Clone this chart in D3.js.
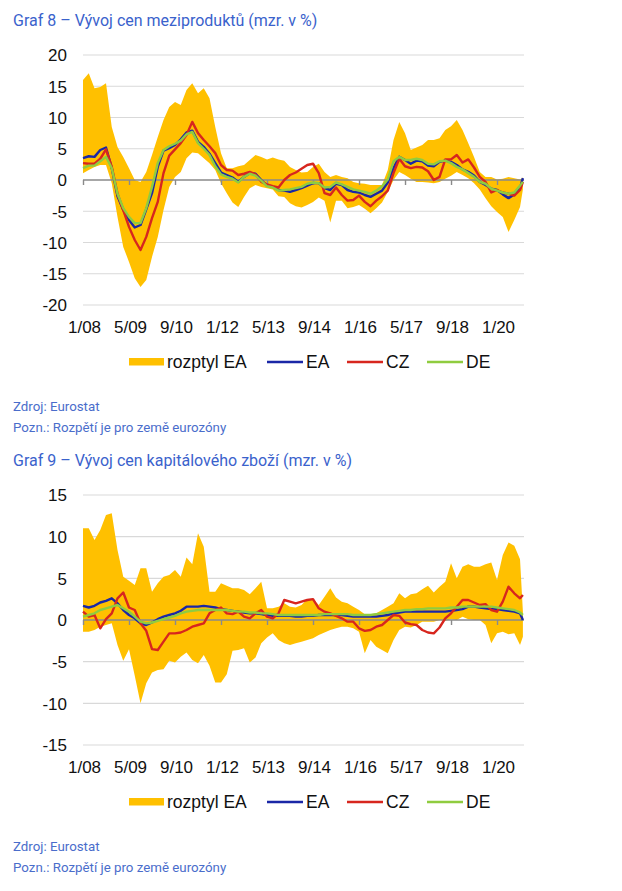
<!DOCTYPE html>
<html><head><meta charset="utf-8">
<script src="https://cdn.jsdelivr.net/npm/d3@7"></script>
<style>
html,body{margin:0;padding:0;background:#fff;}
svg{display:block;}
</style></head>
<body>
<svg id="chart" width="622" height="891"></svg>
<script>
// month offsets from 1/2008 (every second month, last point 10/2020)
const monthOffsets = d3.range(0, 153, 2).concat([153]);
const tickMonths = [0, 16, 32, 48, 64, 80, 96, 112, 128, 144];
const tickLabels = ["1/08","5/09","9/10","1/12","5/13","9/14","1/16","5/17","9/18","1/20"];

// Graf 8 – meziprodukty
const c1Hi = [16.0,17.1,14.7,14.9,15.5,8.5,5.3,3.7,1.9,0.0,
 -0.3,1.3,4.0,6.9,9.6,11.7,12.5,12.0,14.4,15.5,
 13.9,14.7,13.1,8.5,4.3,1.9,1.9,2.2,2.4,3.2,
 4.0,3.7,3.3,3.6,3.3,3.1,2.1,1.6,1.2,1.3,
 2.1,2.6,1.3,0.5,0.8,0.5,0.3,-0.3,-0.5,-0.6,
 -0.8,-0.8,-0.8,1.6,6.4,9.3,7.5,4.8,5.2,5.6,
 6.4,6.4,6.7,8.0,8.6,9.6,8.0,5.9,3.7,1.3,
 0.5,0.5,0.1,0.2,0.5,0.3,0.1,0.4];
const c1Lo = [1.1,1.6,2.1,2.4,2.4,-0.5,-5.9,-10.7,-13.1,-15.7,
 -17.1,-16.0,-12.3,-9.1,-4.8,-1.1,0.5,1.3,3.5,4.4,
 4.3,3.5,2.7,1.6,-0.5,-2.1,-3.6,-4.3,-2.7,-1.3,
 -0.8,-1.1,-1.3,-1.5,-2.6,-2.7,-3.7,-4.2,-4.4,-4.0,
 -3.5,-2.8,-3.3,-6.8,-3.3,-3.3,-4.5,-4.3,-4.0,-4.6,
 -5.3,-4.5,-3.6,-1.9,0.0,1.3,0.8,0.2,-0.3,-0.3,
 -0.4,-0.5,-0.3,0.2,0.7,1.3,0.8,0.3,-0.5,-1.5,
 -2.9,-4.2,-5.1,-5.9,-8.3,-6.4,-4.3,-1.5];
const c1EA = [3.5,3.8,3.7,4.8,5.2,1.9,-2.6,-4.8,-6.4,-7.6,
 -7.2,-4.7,-2.1,2.1,4.7,5.1,5.6,6.5,7.6,7.9,
 6.1,5.3,4.2,2.7,1.2,0.8,0.4,-0.3,0.5,1.1,
 1.0,0.0,-0.9,-1.1,-1.6,-1.7,-1.9,-1.6,-1.3,-0.9,
 -0.5,-0.5,-1.3,-1.6,-0.6,-0.8,-1.6,-1.9,-2.0,-2.4,
 -2.7,-2.2,-1.7,-0.4,1.9,3.7,3.2,2.6,3.1,3.0,
 2.3,2.2,2.9,3.1,2.9,2.4,1.7,1.3,0.7,-0.3,
 -0.8,-1.4,-1.6,-2.3,-2.9,-2.3,-1.3,0.3];
const c1CZ = [2.7,2.6,2.6,3.4,4.9,2.1,-2.2,-4.8,-7.5,-9.6,
 -11.2,-9.1,-6.1,-3.5,1.1,3.9,4.9,5.9,7.2,9.3,
 7.5,6.4,5.4,4.3,2.4,1.6,1.5,0.8,1.0,1.3,
 0.9,-0.3,-0.7,-1.0,-1.2,0.0,0.8,1.2,1.8,2.4,
 2.6,1.1,-2.1,-2.4,-1.2,-2.4,-3.3,-3.2,-2.5,-3.5,
 -4.2,-3.3,-2.6,-1.7,1.1,3.4,2.2,1.9,2.1,2.0,
 1.4,0.0,0.5,3.3,3.3,4.0,2.8,3.3,2.0,0.5,
 -0.3,-2.0,-1.6,-2.0,-2.2,-2.5,-1.6,-0.3];
const c1DE = [1.9,2.3,2.3,3.0,3.7,1.9,-2.2,-4.5,-5.9,-6.9,
 -6.9,-4.5,-1.1,2.7,4.8,5.4,5.8,6.3,7.3,7.7,
 5.9,5.0,4.0,2.2,0.9,0.5,0.2,-0.4,0.5,1.0,
 0.7,-0.1,-1.0,-1.2,-1.7,-1.6,-1.5,-1.3,-1.1,-0.6,
 -0.4,-0.5,-1.2,-1.1,-0.4,-0.7,-1.1,-1.5,-1.7,-1.9,
 -2.2,-1.7,-1.0,0.1,3.0,3.7,3.2,3.2,3.4,3.2,
 2.6,2.5,3.0,3.1,2.7,2.1,1.7,1.1,0.5,-0.3,
 -0.6,-1.4,-1.7,-2.0,-2.2,-2.0,-0.9,-0.3];

// Graf 9 – kapitálové zboží
const c2Hi = [11.0,11.0,9.6,10.8,12.6,12.8,8.4,5.2,4.7,4.2,
 6.2,6.2,3.4,4.4,5.2,5.4,6.0,5.2,7.5,6.7,
 10.4,8.8,3.4,3.4,4.4,4.1,3.8,3.8,3.6,3.1,
 3.8,4.6,1.4,1.4,1.6,2.0,1.6,1.5,1.8,2.5,
 2.5,1.8,2.8,3.8,2.7,2.2,2.0,1.6,1.2,0.7,
 0.7,0.8,1.2,1.6,2.0,3.2,2.6,3.1,3.2,3.7,
 4.1,3.3,4.0,4.6,6.8,5.0,6.4,6.7,6.4,6.4,
 6.7,6.9,4.8,7.8,9.3,8.9,7.3,1.0];
const c2Lo = [-1.4,-1.4,-1.2,-0.8,-0.6,-0.4,-3.0,-4.9,-3.5,-6.7,
 -10.0,-7.6,-6.3,-6.0,-5.9,-4.9,-5.1,-4.4,-3.9,-4.8,
 -5.2,-4.2,-5.5,-7.5,-7.5,-6.5,-3.7,-3.6,-3.4,-5.1,
 -4.5,-2.8,-2.1,-1.6,-2.4,-2.8,-3.0,-2.8,-2.6,-2.4,
 -2.2,-1.8,-1.5,-1.2,-1.0,-0.8,-0.8,-1.0,-1.4,-4.0,
 -2.4,-3.2,-3.6,-4.0,-2.4,-1.2,-0.8,-0.9,-0.6,-0.2,
 -0.2,-0.2,0.0,-0.1,0.1,0.0,0.4,0.1,0.0,0.0,
 -0.6,-2.8,-1.6,-1.4,-1.7,-1.6,-3.0,-2.0];
const c2EA = [1.7,1.5,1.7,2.1,2.3,2.6,2.0,1.2,0.6,0.2,
 -0.4,-0.6,-0.3,0.1,0.4,0.6,0.8,1.1,1.6,1.6,
 1.6,1.7,1.6,1.5,1.3,1.2,1.1,1.0,0.9,0.8,
 0.8,0.7,0.6,0.5,0.5,0.5,0.5,0.4,0.4,0.5,
 0.5,0.6,0.6,0.6,0.6,0.6,0.5,0.4,0.4,0.4,
 0.4,0.4,0.5,0.6,0.8,0.9,1.0,1.0,1.0,1.0,
 1.0,1.0,1.0,1.0,1.1,1.2,1.3,1.6,1.6,1.5,
 1.4,1.3,1.3,1.2,1.1,1.0,0.8,0.0];
const c2CZ = [1.0,0.4,0.6,-1.0,0.1,0.8,2.6,3.3,1.5,1.2,
 -0.4,-1.3,-3.5,-3.6,-2.6,-1.6,-1.6,-1.5,-1.2,-0.8,
 -0.6,-0.4,0.8,1.2,1.5,0.8,0.7,1.0,0.4,0.2,
 0.8,1.2,0.4,0.2,0.8,2.4,2.2,2.0,2.2,2.4,
 2.5,1.4,1.0,0.8,0.5,0.2,-0.2,-0.2,-1.0,-1.3,
 -1.2,-0.8,-0.6,0.0,0.6,0.5,-0.3,-0.5,-0.6,-1.2,
 -1.5,-1.6,-0.9,0.2,0.8,1.6,2.4,2.4,2.1,1.8,
 1.9,1.2,1.0,2.2,4.0,3.2,2.6,3.0];
const c2DE = [0.4,0.6,0.8,1.2,1.4,1.6,1.8,1.4,1.0,0.4,
 -0.2,-0.4,-0.3,-0.1,0.1,0.3,0.5,0.8,1.0,1.1,
 1.2,1.2,1.2,1.2,1.2,1.2,1.1,1.0,1.0,0.9,
 0.9,0.8,0.8,0.7,0.6,0.6,0.6,0.6,0.6,0.6,
 0.6,0.6,0.7,0.7,0.7,0.7,0.7,0.6,0.6,0.6,
 0.6,0.7,0.8,0.9,1.0,1.1,1.2,1.2,1.3,1.3,
 1.4,1.4,1.4,1.4,1.5,1.5,1.6,1.6,1.6,1.6,
 1.6,1.6,1.5,1.4,1.3,1.2,0.9,0.6];

const yTicks1 = [-20,-15,-10,-5,0,5,10,15,20];
const yTicks2 = [-15,-10,-5,0,5,10,15];

const COL = {band:"#FFC000", EA:"#1A27A6", CZ:"#D7261E", DE:"#8FCC3F", title:"#3A62CC", note:"#4A6DCB"};
const svg = d3.select("#chart");
const x = d3.scaleLinear().domain([0, 153]).range([83, 522.9]);

function drawChart(oy, title, yDomain, yTicks, hi, lo, ea, cz, de) {
  const g = svg.append("g").attr("transform", `translate(0,${oy})`);
  const y = d3.scaleLinear().domain(yDomain).range([305, 55]);

  g.append("text").attr("x", 13).attr("y", 26)
    .attr("font-family", "Roboto, sans-serif").attr("font-size", 16)
    .attr("fill", COL.title).text(title);

  // gridlines
  g.append("g").selectAll("line").data(yTicks.filter(d => d !== 0)).join("line")
    .attr("x1", 83).attr("x2", 524).attr("y1", d => y(d)).attr("y2", d => y(d))
    .attr("stroke", "#d9d9d9").attr("stroke-width", 1.2);

  // y axis labels (plain hyphen minus as in the original)
  const yAxis = d3.axisLeft(y).tickValues(yTicks).tickSize(0).tickPadding(0).tickFormat(d => String(d));
  const ya = g.append("g").attr("transform", "translate(67,0)").call(yAxis);
  ya.select(".domain").remove();
  ya.selectAll("text").attr("font-family", "'Liberation Sans', Arial, sans-serif")
    .attr("font-size", 17).attr("fill", "#111").attr("dy", "0.35em");

  const pts = monthOffsets.map((m, i) => ({m, hi: hi[i], lo: lo[i], ea: ea[i], cz: cz[i], de: de[i]}));

  g.append("path").datum(pts)
    .attr("d", d3.area().x(d => x(d.m)).y0(d => y(d.lo)).y1(d => y(d.hi)))
    .attr("fill", COL.band);

  // zero axis with ticks
  const xa = g.append("g").attr("transform", `translate(0,${y(0)})`)
    .call(d3.axisBottom(x).tickValues(tickMonths).tickSize(5).tickFormat(""));
  xa.select(".domain").attr("d", `M83,0H524`).attr("stroke", "#8a8a8a").attr("stroke-width", 1.6);
  xa.selectAll(".tick line").attr("stroke", "#8a8a8a").attr("stroke-width", 1.4);

  const line = key => d3.line().x(d => x(d.m)).y(d => y(d[key])).curve(d3.curveLinear);
  [["ea", COL.EA], ["cz", COL.CZ], ["de", COL.DE]].forEach(([k, c]) => {
    g.append("path").datum(pts).attr("d", line(k)).attr("fill", "none")
      .attr("stroke", c).attr("stroke-width", 2.4).attr("stroke-linejoin", "round");
  });

  // x labels
  g.append("g").selectAll("text").data(tickMonths).join("text")
    .attr("x", (d) => x(d) + 1.5).attr("y", 333).attr("text-anchor", "middle")
    .attr("font-family", "'Liberation Sans', Arial, sans-serif").attr("font-size", 17)
    .attr("fill", "#111").text((d, i) => tickLabels[i]);

  // legend
  const lg = g.append("g").attr("font-family", "'Liberation Sans', Arial, sans-serif")
    .attr("font-size", 17.5).attr("fill", "#111");
  lg.append("rect").attr("x", 129).attr("y", 358).attr("width", 35).attr("height", 7.5).attr("fill", COL.band);
  lg.append("text").attr("x", 167).attr("y", 368).text("rozptyl EA");
  const items = [["EA", COL.EA, 267], ["CZ", COL.CZ, 347], ["DE", COL.DE, 427]];
  items.forEach(([t, c, lx]) => {
    lg.append("line").attr("x1", lx).attr("x2", lx + 36).attr("y1", 362).attr("y2", 362)
      .attr("stroke", c).attr("stroke-width", 2.3);
    lg.append("text").attr("x", lx + 39).attr("y", 368).text(t);
  });

  // notes
  const nt = g.append("g").attr("font-family", "Roboto, sans-serif").attr("font-size", 13.3).attr("fill", COL.note);
  nt.append("text").attr("x", 13).attr("y", 411).text("Zdroj: Eurostat");
  nt.append("text").attr("x", 13).attr("y", 432).text("Pozn.: Rozpětí je pro země eurozóny");
}

drawChart(0, "Graf 8 – Vývoj cen meziproduktů (mzr. v %)", [-20, 20], yTicks1, c1Hi, c1Lo, c1EA, c1CZ, c1DE);
drawChart(440, "Graf 9 – Vývoj cen kapitálového zboží (mzr. v %)", [-15, 15], yTicks2, c2Hi, c2Lo, c2EA, c2CZ, c2DE);
</script>
</body></html>
